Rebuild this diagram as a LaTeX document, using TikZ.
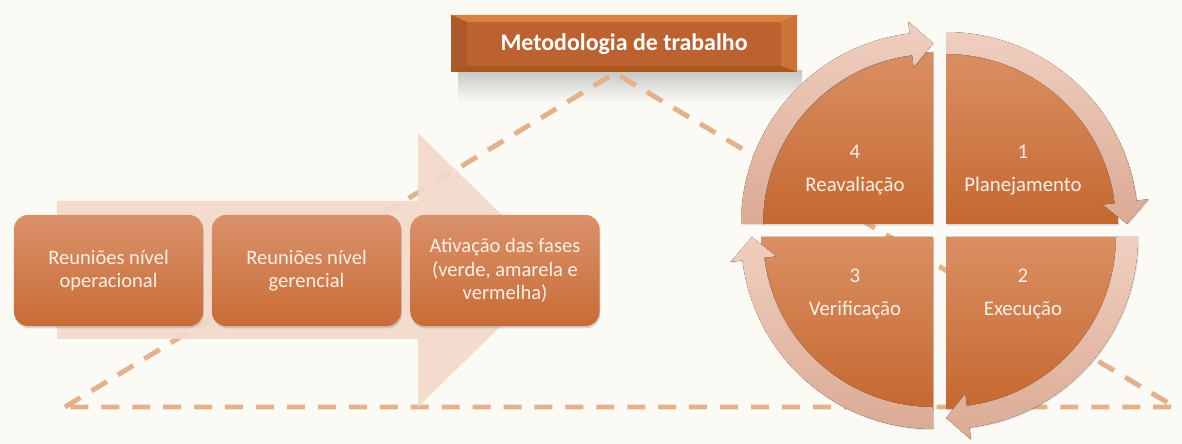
\documentclass[tikz,border=0pt]{standalone}
\usepackage{fontspec}
\setmainfont{Carlito}
\usetikzlibrary{positioning}
\usetikzlibrary{shadows}

\definecolor{paper}{HTML}{FBFAF5}
\definecolor{trailcol}{HTML}{E3B18C}
\definecolor{flowpink}{HTML}{F3D9CC}
\definecolor{boxtop}{HTML}{DA916A}
\definecolor{boxbot}{HTML}{C86C36}
\definecolor{boxtext}{HTML}{FCF0E8}
\definecolor{quadtop}{HTML}{DA8F62}
\definecolor{quadbot}{HTML}{C56831}
\definecolor{ringlight}{HTML}{F0CFC0}
\definecolor{ringdark}{HTML}{DBAA94}
\definecolor{titleface}{HTML}{BC6230}
\definecolor{titletopc}{HTML}{D9823D}
\definecolor{titleleft}{HTML}{AC5A2A}
\definecolor{titleright}{HTML}{CC7435}
\definecolor{titlebot}{HTML}{A9561F}

\tikzset{
  stagebox/.style={rectangle, rounded corners=10pt, minimum width=4.725cm,
    minimum height=2.775cm, top color=boxtop, bottom color=boxbot,
    text=boxtext, align=center, font=\fontsize{14.6}{16.6}\selectfont,
    drop shadow={opacity=0.3, shadow xshift=0.6pt, shadow yshift=-1.6pt}},
  quadlabel/.style={text=boxtext, align=center, font=\fontsize{14.8}{23.5}\selectfont},
  trail/.style={draw=trailcol, line width=3.5pt, dash pattern=on 12.8pt off 9.2pt},
  ringarrow/.style={top color=ringlight, bottom color=ringdark,
    drop shadow={opacity=0.2, shadow xshift=0.8pt, shadow yshift=-0.8pt}},
  quadfill/.style={top color=quadtop, bottom color=quadbot,
    drop shadow={opacity=0.25, shadow xshift=0.8pt, shadow yshift=-1.2pt}}
}

\begin{document}
\begin{tikzpicture}[x=0.025cm, y=0.025cm]
  % canvas
  \fill[paper] (0,0) rectangle (1182,444);
  \useasboundingbox (0,0) rectangle (1182,444);

  % shadow under the title
  \shade[top color=black!22, bottom color=paper] (458,373) rectangle (802,342);

  % dashed triangle
  \coordinate (baseL) at (65,37);
  \coordinate (baseR) at (1175,37);
  \coordinate (apex) at (615,371);
  \draw[trail] (baseL) -- (apex) -- (baseR) -- cycle;

  % big flow arrow
  \fill[flowpink, opacity=0.93] (57,243) -- (418,243) -- (418,311) -- (558,174)
    -- (418,37) -- (418,105) -- (57,105) -- cycle;

  % steps
  \node[stagebox] (ops) at (108.5,173.5) {Reuniões nível\\operacional};
  \node[stagebox] (mgr) at (306.5,173.5) {Reuniões nível\\gerencial};
  \node[stagebox] (phases) at (505,173.5) {Ativação das fases\\(verde, amarela e\\vermelha)};

  % title with bevel
  \fill[titleface] (451,372) rectangle (797,429);
  \fill[titletopc] (451,429) -- (797,429) -- (781,422) -- (467,422) -- cycle;
  \fill[titleleft] (451,429) -- (467,422) -- (467,378) -- (451,372) -- cycle;
  \fill[titleright] (797,429) -- (781,422) -- (781,378) -- (797,372) -- cycle;
  \fill[titlebot] (451,372) -- (467,378) -- (781,378) -- (797,372) -- cycle;
  \node[text=white, font=\fontsize{17}{20}\selectfont\bfseries] (title) at (624,400) {Metodologia de trabalho};

  % cycle: four quarters
  \coordinate (tl) at (933,220);
  \coordinate (tr) at (946,220);
  \coordinate (bl) at (933,207);
  \coordinate (br) at (946,207);

  \fill[quadfill] (tl) -- ++(180:172) arc[start angle=180, end angle=90, radius=172] -- cycle;
  \fill[quadfill] (tr) -- ++(90:172) arc[start angle=90, end angle=0, radius=172] -- cycle;
  \fill[quadfill] (br) -- ++(0:172) arc[start angle=0, end angle=-90, radius=172] -- cycle;
  \fill[quadfill] (bl) -- ++(270:172) arc[start angle=270, end angle=180, radius=172] -- cycle;

  % ring arrows (clockwise)
  \begin{scope}[shift={(tl)}]
    \fill[ringarrow] (180:170) arc[start angle=180, end angle=97, radius=170]
      -- (97:158) -- (90:181) -- (97:204) -- (97:192)
      arc[start angle=97, end angle=180, radius=192] -- cycle;
  \end{scope}
  \begin{scope}[shift={(tr)}]
    \fill[ringarrow] (90:170) arc[start angle=90, end angle=7, radius=170]
      -- (7:158) -- (0:181) -- (7:204) -- (7:192)
      arc[start angle=7, end angle=90, radius=192] -- cycle;
  \end{scope}
  \begin{scope}[shift={(br)}]
    \fill[ringarrow] (0:170) arc[start angle=0, end angle=-83, radius=170]
      -- (-83:158) -- (-90:181) -- (-83:204) -- (-83:192)
      arc[start angle=-83, end angle=0, radius=192] -- cycle;
  \end{scope}
  \begin{scope}[shift={(bl)}]
    \fill[ringarrow] (270:170) arc[start angle=270, end angle=187, radius=170]
      -- (187:158) -- (180:181) -- (187:204) -- (187:192)
      arc[start angle=187, end angle=270, radius=192] -- cycle;
  \end{scope}

  % labels
  \node[quadlabel] (plan) at (1023,274) {1\\Planejamento};
  \node[quadlabel] (exec) at (1023,150) {2\\Execução};
  \node[quadlabel] (check) at (855,150) {3\\Verificação};
  \node[quadlabel] (review) at (855,274) {4\\Reavaliação};
\end{tikzpicture}
\end{document}
